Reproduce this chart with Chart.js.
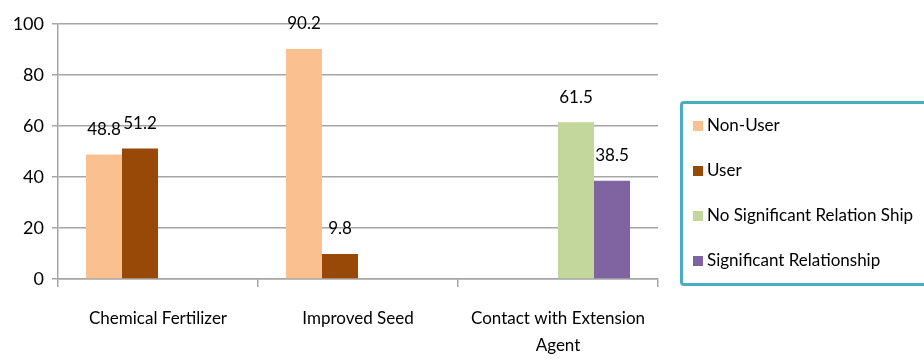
<!DOCTYPE html>
<html lang="en">
<head>
  <meta charset="UTF-8">
  <title>Users and non-users</title>
  <script src="https://cdn.jsdelivr.net/npm/chart.js"></script>
  <style>
    body { margin: 0; overflow: hidden; background: #fff; font-family: Lato, sans-serif; }
    #wrap { position: relative; width: 924px; height: 360px; overflow: hidden; }
    #legend {
      position: absolute; left: 680px; top: 101px; width: 260px; height: 185px;
      border: 3px solid #4bacc6; border-radius: 4px; box-sizing: border-box;
    }
    #legend .item {
      position: absolute; left: 10px; white-space: nowrap;
      font-size: 17px; color: #000; line-height: 20px;
    }
    #legend .sw { display: inline-block; width: 10px; height: 10px; margin-right: 4px; vertical-align: 0px; }
  </style>
</head>
<body>
  <div id="wrap">
    <canvas id="chart" width="924" height="360"></canvas>
    <div id="legend"></div>
  </div>

  <script>
    // categories and series
    const categories = ['Chemical Fertilizer', 'Improved Seed', ['Contact with Extension', 'Agent']];
    const nonUser = [48.8, 90.2, null];
    const user = [51.2, 9.8, null];
    const noSignificant = [null, null, 61.5];
    const significant = [null, null, 38.5];
    const seriesNames = ['Non-User', 'User', 'No Significant Relation Ship', 'Significant Relationship'];
    const seriesColors = ['#fac090', '#984807', '#c3d69b', '#8064a2'];
    const yTicks = [0, 20, 40, 60, 80, 100];

    const seriesData = [nonUser, user, noSignificant, significant];

    // value labels above each bar
    const valueLabels = {
      id: 'valueLabels',
      afterDatasetsDraw(chart) {
        const ctx = chart.ctx;
        ctx.save();
        ctx.font = '17px Lato, sans-serif';
        ctx.fillStyle = '#000';
        ctx.textAlign = 'center';
        ctx.textBaseline = 'middle';
        chart.data.datasets.forEach((ds, i) => {
          chart.getDatasetMeta(i).data.forEach((bar, j) => {
            if (ds.data[j] == null) return;
            ctx.fillText(ds.data[j].toFixed(1), bar.x, bar.y - 25);
          });
        });
        ctx.restore();
      }
    };

    new Chart(document.getElementById('chart').getContext('2d'), {
      type: 'bar',
      data: {
        labels: categories,
        datasets: seriesData.map((d, i) => ({
          label: seriesNames[i],
          data: d,
          backgroundColor: seriesColors[i],
          categoryPercentage: 0.72,
          barPercentage: 1.0
        }))
      },
      options: {
        responsive: false,
        animation: false,
        layout: { padding: { top: 24, right: 266, left: 0, bottom: 0 } },
        plugins: {
          legend: { display: false },
          tooltip: { enabled: false }
        },
        scales: {
          x: {
            grid: { offset: true, drawOnChartArea: false, color: '#a6a6a6', lineWidth: 1.5, tickLength: 8 },
            border: { color: '#a6a6a6', width: 1.5 },
            ticks: { color: '#000', font: { family: 'Lato, sans-serif', size: 17, lineHeight: 1.6 }, padding: 18, maxRotation: 0 },
            afterFit(scale) { scale.height = 81; }
          },
          y: {
            min: 0, max: 100,
            afterBuildTicks(scale) { scale.ticks = yTicks.map(v => ({ value: v })); },
            grid: { color: '#a6a6a6', lineWidth: 1.5, tickLength: 6 },
            border: { color: '#a6a6a6', width: 1.5 },
            ticks: { color: '#000', font: { family: 'Lato, sans-serif', size: 18 }, padding: 8 },
            afterFit(scale) { scale.width = 58; }
          }
        }
      },
      plugins: [valueLabels]
    });

    // legend box on the right
    const legend = document.getElementById('legend');
    seriesNames.forEach((name, i) => {
      const item = document.createElement('div');
      item.className = 'item';
      item.style.top = (11 + i * 45) + 'px';
      item.innerHTML = '<span class="sw" style="background:' + seriesColors[i] + '"></span>' + name;
      legend.appendChild(item);
    });
  </script>
</body>
</html>
